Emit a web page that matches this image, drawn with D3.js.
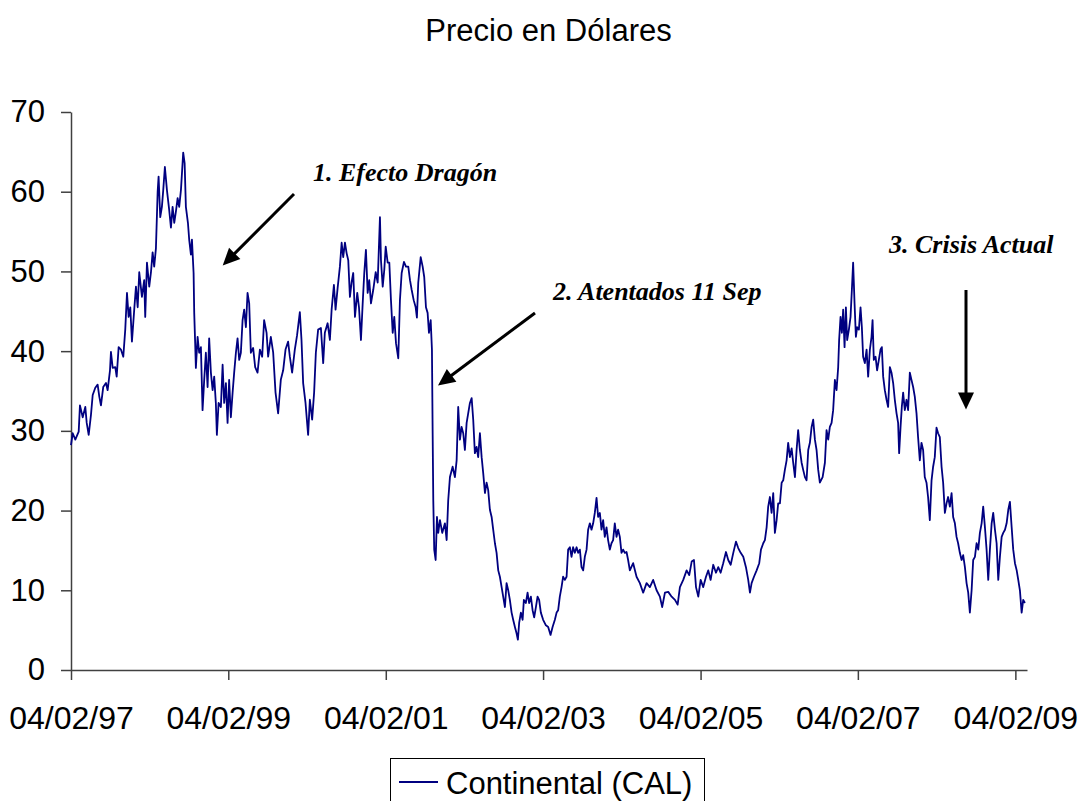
<!DOCTYPE html>
<html><head><meta charset="utf-8">
<script src="https://cdn.jsdelivr.net/npm/d3@7"></script>
<style>body{margin:0;background:#fff} svg{display:block}</style>
</head><body>
<svg id="chart" width="1078" height="801"></svg>
<script>
// ---- DATA (decimal years, price in USD) ----
const years = [
1997.093,1997.115,1997.148,1997.191,1997.207,1997.242,1997.275,1997.293,1997.318,1997.347,
1997.369,1997.402,1997.432,1997.453,1997.474,1997.503,1997.538,1997.559,1997.589,1997.601,
1997.623,1997.656,1997.674,1997.699,1997.728,1997.758,1997.783,1997.805,1997.826,1997.847,
1997.868,1997.897,1997.919,1997.941,1997.961,1997.995,1998.024,1998.037,1998.059,1998.088,
1998.110,1998.131,1998.151,1998.173,1998.195,1998.207,1998.228,1998.249,1998.266,1998.287,
1998.313,1998.342,1998.364,1998.385,1998.406,1998.427,1998.449,1998.469,1998.491,1998.520,
1998.538,1998.554,1998.580,1998.596,1998.618,1998.631,1998.652,1998.660,1998.672,1998.681,
1998.703,1998.723,1998.745,1998.766,1998.787,1998.808,1998.830,1998.850,1998.872,1998.894,
1998.914,1998.935,1998.948,1998.970,1998.999,1999.021,1999.041,1999.063,1999.084,1999.104,
1999.126,1999.148,1999.168,1999.190,1999.211,1999.232,1999.253,1999.275,1999.295,1999.317,
1999.338,1999.359,1999.380,1999.409,1999.435,1999.465,
1999.495,1999.524,1999.549,1999.580,1999.600,1999.634,1999.664,1999.694,1999.727,1999.761,
1999.791,1999.821,1999.854,1999.876,1999.905,1999.939,1999.968,2000.003,2000.024,2000.045,
2000.075,2000.108,2000.130,2000.159,2000.184,2000.206,2000.235,2000.270,2000.299,2000.320,
2000.355,2000.384,2000.406,2000.435,2000.456,2000.482,2000.511,2000.533,2000.553,2000.575,
2000.596,2000.617,2000.638,2000.660,2000.680,2000.702,2000.731,2000.753,2000.778,2000.800,
2000.820,2000.841,2000.863,2000.883,2000.905,2000.934,2000.965,2000.990,2001.019,2001.032,
2001.054,2001.074,2001.092,2001.117,2001.138,2001.159,2001.181,2001.201,2001.223,2001.252,
2001.273,2001.295,2001.324,2001.350,2001.379,2001.401,2001.422,2001.448,2001.473,2001.489,
2001.506,2001.537,2001.562,2001.582,2001.604,2001.625,2001.642,2001.664,2001.680,2001.689,
2001.697,2001.709,2001.727,2001.744,2001.760,2001.782,2001.811,2001.845,2001.867,2001.887,
2001.909,
2001.943,2001.972,2001.994,2002.014,2002.036,2002.057,2002.078,2002.099,2002.121,2002.141,
2002.163,2002.185,2002.205,2002.226,2002.248,2002.268,2002.290,2002.312,2002.332,2002.354,
2002.375,2002.395,2002.417,2002.439,2002.459,2002.481,2002.502,2002.523,2002.544,2002.566,
2002.586,2002.608,2002.629,2002.650,2002.671,2002.693,2002.713,2002.735,2002.756,2002.773,
2002.789,2002.811,2002.833,2002.849,2002.874,2002.896,2002.916,2002.938,2002.960,2002.980,
2003.002,2003.023,2003.043,2003.065,2003.094,2003.129,2003.158,2003.188,2003.214,2003.243,
2003.265,2003.285,2003.306,2003.328,2003.348,2003.370,2003.392,2003.412,2003.434,2003.455,
2003.475,2003.497,2003.519,2003.539,2003.561,2003.582,2003.603,2003.624,2003.646,2003.666,
2003.688,2003.709,2003.730,2003.751,2003.773,2003.793,2003.815,2003.836,2003.857,2003.878,
2003.900,2003.920,2003.942,2003.963,2003.984,2004.005,2004.027,2004.047,2004.069,2004.090,
2004.111,2004.132,2004.154,2004.174,2004.196,
2004.238,2004.281,2004.323,2004.365,2004.408,2004.450,2004.492,2004.535,2004.577,2004.606,
2004.641,2004.683,2004.726,2004.768,2004.802,2004.831,2004.873,2004.916,2004.949,2004.980,
2005.009,2005.035,2005.064,2005.094,2005.127,2005.162,2005.191,2005.221,2005.254,2005.289,
2005.318,2005.348,2005.381,2005.416,2005.445,2005.476,2005.509,2005.543,2005.572,2005.603,
2005.636,2005.670,2005.699,2005.721,2005.742,2005.772,2005.806,2005.839,2005.861,2005.890,
2005.911,2005.933,2005.953,2005.975,2005.996,2006.017,2006.038,2006.060,2006.080,2006.102,
2006.124,2006.144,2006.165,2006.187,2006.207,2006.229,2006.251,2006.271,2006.293,2006.314,
2006.334,2006.356,2006.378,2006.398,2006.420,2006.441,2006.462,2006.483,2006.505,2006.525,
2006.547,2006.568,2006.589,2006.610,
2006.645,2006.674,2006.695,2006.716,2006.737,2006.759,2006.779,2006.801,2006.822,2006.843,
2006.855,2006.873,2006.890,2006.906,2006.924,2006.941,2006.957,2006.979,2007.000,2007.017,
2007.033,2007.051,2007.068,2007.084,2007.106,2007.127,2007.144,2007.160,2007.182,2007.204,
2007.224,2007.246,2007.267,2007.280,2007.296,2007.318,2007.338,2007.360,2007.381,2007.398,
2007.415,2007.436,2007.458,2007.478,2007.500,2007.521,2007.542,2007.563,2007.585,2007.605,
2007.618,2007.636,2007.652,2007.669,2007.690,2007.712,2007.732,2007.754,2007.775,2007.796,
2007.817,2007.839,2007.859,2007.881,2007.902,2007.923,2007.944,2007.966,2007.986,2008.008,
2008.030,2008.050,2008.071,2008.093,2008.113,2008.135,2008.157,2008.177,2008.199,2008.220,
2008.240,2008.262,2008.284,2008.304,2008.326,2008.347,2008.367,2008.389,2008.411,2008.431,
2008.453,2008.474,2008.495,2008.516,2008.538,2008.558,2008.580,2008.601,2008.622,2008.643,
2008.665,2008.685,2008.707,2008.728,2008.749,2008.770,2008.792,2008.812,2008.834,2008.855,
2008.876,2008.897,2008.919,2008.939,2008.961,2008.982,2009.003,2009.024,2009.046,2009.066,
2009.088,2009.110,2009.130,2009.151,2009.173,2009.193,2009.215
];
const prices = [
28.2,29.7,28.9,29.9,33.2,31.7,33.0,31.0,29.5,32.0,
34.5,35.4,35.8,34.3,33.2,35.5,36.0,35.1,37.6,39.9,
37.9,38.0,36.8,40.5,40.2,39.3,42.7,47.3,44.3,45.5,
41.2,45.2,48.1,45.5,49.9,46.8,48.9,44.3,51.1,48.1,
49.9,52.4,50.6,52.9,60.0,61.9,56.8,58.1,60.2,63.1,
60.2,57.7,55.5,58.1,56.1,57.5,59.2,58.1,60.2,64.9,
63.6,58.1,56.1,54.0,52.1,54.0,49.8,44.8,41.0,37.9,
41.8,39.8,40.5,32.6,36.4,39.8,35.5,41.6,37.3,35.1,
36.8,33.5,29.5,33.5,33.0,38.3,33.5,36.0,31.0,36.4,
31.7,34.8,37.3,39.8,41.6,38.9,39.8,43.9,45.2,43.0,
47.3,46.0,39.8,40.4,38.0,37.3,
40.2,39.3,43.9,42.3,39.3,41.8,39.8,34.8,32.2,36.4,
37.6,40.2,41.2,39.3,37.3,40.2,42.0,44.9,41.4,36.0,
33.5,29.5,33.9,31.4,34.8,39.8,42.7,42.9,38.5,42.3,
43.5,41.4,45.2,48.3,45.2,47.9,50.6,53.6,51.8,53.6,
52.3,51.4,46.8,48.7,49.8,44.3,47.3,45.5,41.4,46.0,
49.8,52.7,47.3,48.9,46.0,47.7,49.9,48.6,56.8,51.4,
48.1,50.2,53.1,51.1,51.1,46.4,42.3,44.3,41.0,39.1,
46.4,49.8,51.2,50.6,50.6,48.9,47.7,46.4,45.5,44.2,
48.6,51.8,50.6,49.3,45.5,44.8,42.3,43.9,40.2,29.7,
21.3,15.1,13.8,19.2,17.2,18.8,17.2,18.4,16.3,21.3,
24.2,
25.5,24.2,26.3,33.0,28.9,30.5,29.7,27.6,31.0,32.2,
33.5,34.1,31.4,27.2,28.0,26.7,29.7,26.7,24.7,22.2,
23.5,22.6,20.1,19.2,17.6,15.9,14.7,12.5,11.7,10.4,
9.2,7.9,10.9,10.0,8.8,7.2,6.3,5.4,4.6,3.8,
5.9,7.2,6.3,8.8,8.4,9.7,8.4,9.2,7.5,6.6,
7.9,9.2,8.8,7.2,6.3,5.6,5.4,4.4,5.4,6.3,
7.2,7.5,9.2,10.4,11.7,11.3,11.7,15.1,15.4,14.2,
15.4,14.7,15.4,14.7,15.1,12.9,12.5,14.2,15.1,17.6,
18.4,17.6,18.4,19.7,21.6,19.2,19.7,17.6,18.8,16.7,
17.9,16.3,15.1,15.9,16.3,18.4,16.7,17.6,16.7,14.7,
15.1,14.7,14.8,13.8,12.5,
13.4,11.7,10.9,9.7,10.9,10.4,11.3,10.0,9.2,7.9,
9.7,9.8,9.2,8.8,8.2,10.4,11.3,12.5,11.9,13.6,
13.8,10.4,9.2,11.3,10.4,11.7,12.5,11.3,13.2,12.2,
12.9,12.2,13.4,14.8,13.8,13.2,14.7,16.1,15.3,14.7,
14.2,12.9,11.3,9.7,10.9,11.7,12.5,13.4,15.1,15.9,
16.3,17.9,20.5,21.7,19.7,22.2,17.2,18.8,20.9,20.9,
23.5,23.8,25.1,26.3,28.5,26.7,27.8,26.0,24.2,27.6,
30.1,27.6,26.0,25.1,24.2,23.8,27.6,28.5,30.5,31.4,
28.9,27.6,25.1,23.5,
24.2,26.0,30.1,28.9,30.5,31.0,32.6,36.4,35.1,38.0,
41.4,44.3,42.3,45.2,40.5,45.5,41.4,42.7,44.3,47.7,
51.1,46.0,41.8,43.0,42.7,45.5,43.0,39.3,38.5,40.2,
36.8,40.2,41.8,43.9,38.9,39.3,37.6,38.9,40.2,40.5,
36.8,35.1,33.9,33.0,38.0,37.3,36.0,33.9,32.2,31.0,
27.2,30.5,33.0,34.8,32.6,33.9,32.6,37.3,36.4,35.5,
34.3,32.2,29.2,26.3,28.5,27.6,24.2,23.5,21.7,18.8,
23.8,25.5,26.7,30.4,29.7,29.2,25.5,23.5,19.7,20.9,
21.7,20.5,22.2,19.2,18.4,16.7,15.9,14.7,13.8,14.4,
12.9,10.9,9.7,7.2,10.0,13.8,14.2,15.9,15.1,17.2,
18.4,20.5,17.9,15.1,11.3,15.1,18.4,19.7,17.6,15.9,
11.3,14.2,16.7,17.2,17.6,18.4,20.1,21.1,17.9,15.1,
13.4,12.5,11.3,10.0,7.2,8.8,8.4
];
const xTickDates = ["1997-02-04","1999-02-04","2001-02-04","2003-02-04","2005-02-04","2007-02-04","2009-02-04"];
const yTickValues = [0,10,20,30,40,50,60,70];
const chartTitle = "Precio en Dólares";
const seriesName = "Continental (CAL)";
const annotationTexts = ["1. Efecto Dragón","2. Atentados 11 Sep","3. Crisis Actual"];

// ---- helpers ----
function yearToDate(t){
  const y = Math.floor(t);
  const a = new Date(y,0,1).getTime(), b = new Date(y+1,0,1).getTime();
  return new Date(a + (t - y) * (b - a));
}
const parse = d3.timeParse("%Y-%m-%d");
const data = years.map((t,i)=>({date: yearToDate(t), value: prices[i]}));

const svg = d3.select("#chart");
const W = 1078, H = 801;
svg.append("rect").attr("width",W).attr("height",H).attr("fill","#fff");

const x = d3.scaleTime()
  .domain([parse("1997-02-04"), parse("2009-03-30")])
  .range([71, 1027]);
const y = d3.scaleLinear().domain([0,70]).range([670,112]);

const sans = "'Liberation Sans', Arial, sans-serif";
const serif = "'Liberation Serif', 'Times New Roman', serif";
const axisColor = "#404040";

// title
svg.append("text").attr("x",548.5).attr("y",41)
  .attr("text-anchor","middle").attr("font-family",sans).attr("font-size",31)
  .attr("fill","#000").text(chartTitle);

// y axis
const gy = svg.append("g").attr("transform","translate(71,0)")
  .call(d3.axisLeft(y).tickValues(yTickValues).tickSize(10).tickPadding(16).tickSizeOuter(0));
gy.selectAll("path,line").attr("stroke",axisColor).attr("stroke-width",1.5);
gy.selectAll("text").attr("font-family",sans).attr("font-size",31).attr("fill","#000");

// x axis
const gx = svg.append("g").attr("transform","translate(0,670)")
  .call(d3.axisBottom(x).tickValues(xTickDates.map(parse))
    .tickFormat(d3.timeFormat("%d/%m/%y")).tickSize(10).tickPadding(26).tickSizeOuter(0));
gx.selectAll("path,line").attr("stroke",axisColor).attr("stroke-width",1.5);
gx.selectAll("text").attr("font-family",sans).attr("font-size",32).attr("fill","#000");

// series
const line = d3.line().x(d=>x(d.date)).y(d=>y(d.value));
svg.append("path").datum(data).attr("d",line)
  .attr("fill","none").attr("stroke","#000080").attr("stroke-width",1.8)
  .attr("stroke-linejoin","round");

// annotations
const annoLayout = [
  {tx:313, ty:181, x1:294, y1:194, x2:222.7, y2:265.5},
  {tx:553, ty:300, x1:535, y1:313, x2:438, y2:385.5},
  {tx:889, ty:253, x1:966, y1:290, x2:966, y2:409.5}
];
annoLayout.forEach((a,i)=>{
  svg.append("text").attr("x",a.tx).attr("y",a.ty)
    .attr("font-family",serif).attr("font-size",26)
    .attr("font-weight","bold").attr("font-style","italic").attr("fill","#000")
    .text(annotationTexts[i]);
  const dx=a.x2-a.x1, dy=a.y2-a.y1, L=Math.hypot(dx,dy), ux=dx/L, uy=dy/L;
  const hl=17, hw=8;
  const bx=a.x2-ux*hl, by=a.y2-uy*hl;
  svg.append("line").attr("x1",a.x1).attr("y1",a.y1).attr("x2",bx+ux*2).attr("y2",by+uy*2)
    .attr("stroke","#000").attr("stroke-width",3);
  svg.append("polygon")
    .attr("points",[[a.x2,a.y2],[bx-uy*hw,by+ux*hw],[bx+uy*hw,by-ux*hw]].map(p=>p.join(",")).join(" "))
    .attr("fill","#000");
});

// legend
svg.append("rect").attr("x",390.5).attr("y",758.5).attr("width",314).attr("height",60)
  .attr("fill","none").attr("stroke","#000").attr("stroke-width",1);
svg.append("line").attr("x1",399).attr("x2",438).attr("y1",782).attr("y2",782)
  .attr("stroke","#000080").attr("stroke-width",2);
svg.append("text").attr("x",446).attr("y",794).attr("font-family",sans).attr("font-size",31)
  .attr("fill","#000").text(seriesName);
</script>
</body></html>
